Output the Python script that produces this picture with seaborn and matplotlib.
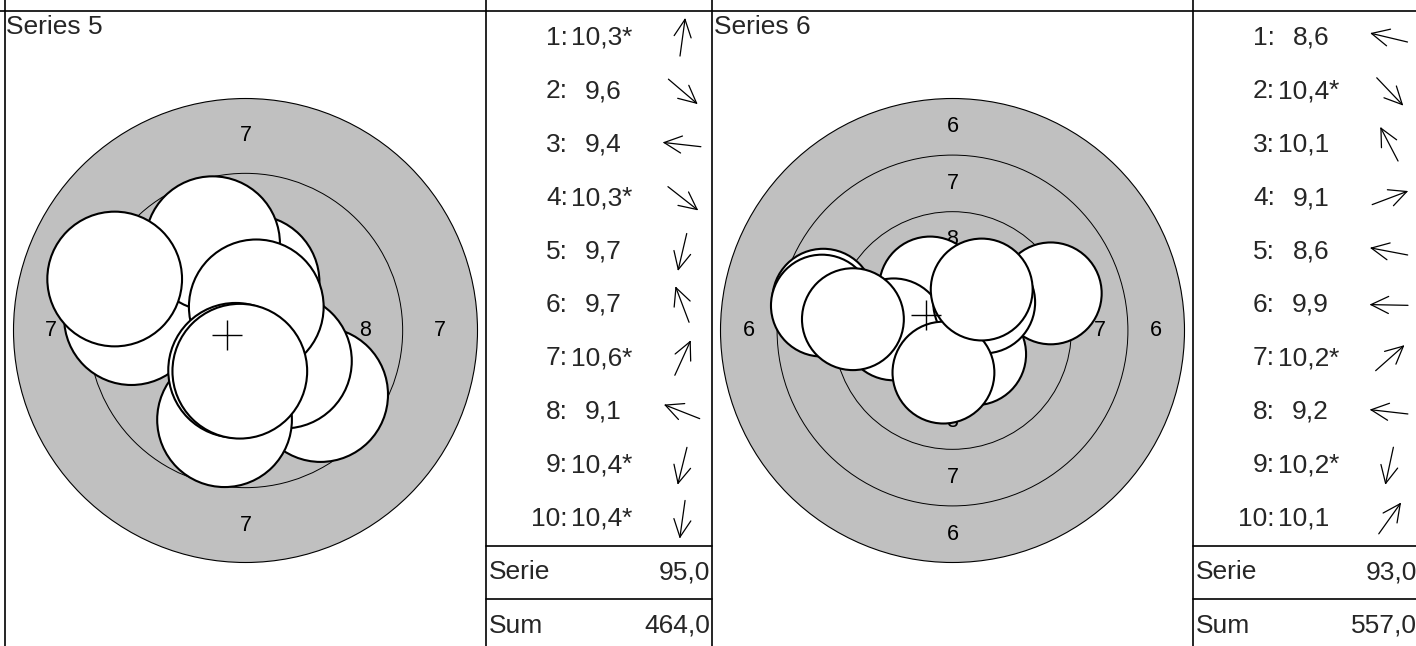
import numpy as np
import matplotlib
matplotlib.use("Agg")
import matplotlib.pyplot as plt
from matplotlib.patches import Circle
from matplotlib.lines import Line2D
import seaborn as sns

# shot data (positions in mm, y up, target centre = 0,0)
series_names = ["Series 5", "Series 6"]
outer_rings = [7, 6]            # outermost ring drawn on each target
running_totals = [464.0, 557.0]

scores_5 = [10.3, 9.6, 9.4, 10.3, 9.7, 9.7, 10.6, 9.1, 10.4, 10.4]
shot_x_5 = [0.22, 2.51, -3.81, 1.30, -0.70, -1.10, 0.36, -4.37, -0.33, -0.19]
shot_y_5 = [1.61, -2.14, 0.43, -1.02, -2.98, 2.90, 0.79, 1.72, -1.33, -1.36]

scores_6 = [8.6, 10.4, 10.1, 9.1, 8.6, 9.9, 10.2, 9.2, 10.2, 10.1]
shot_x_6 = [-5.71, 1.00, -0.99, 4.34, -5.77, -2.60, 1.40, -4.40, -0.40, 1.29]
shot_y_6 = [1.36, -1.05, 1.90, 1.64, 1.10, 0.05, 1.24, 0.50, -1.86, 1.81]

all_scores = [scores_5, scores_6]
all_x = [shot_x_5, shot_x_6]
all_y = [shot_y_5, shot_y_6]

# 10m air rifle target geometry
PELLET_R = 2.25


def ring_radius(n):
    return 0.25 + (10 - n) * 2.5


def fmt(v):
    return f"{v:.1f}".replace(".", ",")


W, H, DPI = 1416, 646, 100
sns.set_theme(style="white")
plt.rcParams["font.family"] = ["Liberation Sans", "DejaVu Sans"]

fig = plt.figure(figsize=(W / DPI, H / DPI), dpi=DPI)
fig.patch.set_facecolor("white")


def fx(px):
    return px / W


def fy(py):
    return 1 - py / H


panel_left = [5, 712]
target_w, list_w = 481, 226
top = 11
row_h = 53.45
bottom = top + 12 * row_h
target_bottom = 650
outer_px = 232          # radius of the outermost drawn ring in pixels
FS = 19

for k in range(2):
    x0 = panel_left[k]
    scores = all_scores[k]
    xs, ys = all_x[k], all_y[k]

    # ---- target ----
    ax = fig.add_axes([fx(x0), fy(target_bottom), target_w / W, (target_bottom - top) / H])
    ax.set_axis_off()
    r_out = ring_radius(outer_rings[k])
    ppm = outer_px / r_out
    hw = target_w / 2 / ppm
    hh = (target_bottom - top) / 2 / ppm

    ax.add_patch(Circle((0, 0), r_out, fc="#c0c0c0", ec="black", lw=0.8, zorder=1))
    for n in range(outer_rings[k] + 1, 11):
        ax.add_patch(Circle((0, 0), ring_radius(n), fill=False, ec="black", lw=0.7, zorder=1.1))
    for n in range(outer_rings[k], 9):
        rr = (ring_radius(n) + ring_radius(n + 1)) / 2
        for dx, dy in [(0, 1), (0, -1), (-1, 0), (1, 0)]:
            ax.text(dx * rr, dy * rr, str(n), ha="center", va="center",
                    fontsize=15.5, color="black", zorder=1.2)

    for i, (sx, sy) in enumerate(zip(xs, ys)):
        ax.add_patch(Circle((sx, sy), PELLET_R, fc="white", ec="black",
                            lw=1.5, zorder=3 + i * 0.01))

    sns.scatterplot(x=[np.mean(xs)], y=[np.mean(ys)], marker="+", s=480,
                    color="black", linewidth=1.0, ax=ax, zorder=5, legend=False)
    ax.set_xlim(-hw, hw)
    ax.set_ylim(-hh, hh)
    ax.set_aspect("equal")

    fig.text(fx(x0 + 1.5), fy(33.5), series_names[k], fontsize=FS,
             ha="left", va="baseline")

    # ---- shot list ----
    lx = x0 + target_w
    lax = fig.add_axes([fx(lx), fy(bottom), list_w / W, (bottom - top) / H])
    lax.set_axis_off()
    lax.set_xlim(0, list_w)
    lax.set_ylim(bottom - top, 0)

    for i, s in enumerate(scores):
        yc = (i + 0.5) * row_h
        lax.text(82, yc, f"{i + 1}:", ha="right", va="center", fontsize=FS)
        lax.text(136, yc, fmt(s), ha="right", va="center", fontsize=FS)
        if s >= 10.2:
            lax.text(136, yc, "*", ha="left", va="center", fontsize=FS)

        # direction arrow (screen coords, y down)
        d = np.array([xs[i], -ys[i]])
        u = d / np.linalg.norm(d)
        c = np.array([196.5, yc])
        tail, tip = c - 18.5 * u, c + 18.5 * u
        lax.plot([tail[0], tip[0]], [tail[1], tip[1]], color="black", lw=0.9)
        for ang in (np.radians(26), -np.radians(26)):
            rot = np.array([[np.cos(ang), -np.sin(ang)], [np.sin(ang), np.cos(ang)]])
            arm = tip + 19.5 * (rot @ -u)
            lax.plot([tip[0], arm[0]], [tip[1], arm[1]], color="black", lw=0.9)

    serie_total = sum(int(s) for s in scores)
    lax.text(3, 10.5 * row_h, "Serie", ha="left", va="center", fontsize=FS)
    lax.text(224, 10.5 * row_h, fmt(serie_total), ha="right", va="center", fontsize=FS)
    lax.text(3, 11.5 * row_h, "Sum", ha="left", va="center", fontsize=FS)
    lax.text(224, 11.5 * row_h, fmt(running_totals[k]), ha="right", va="center", fontsize=FS)

    # table rules
    for yy in (top + 10 * row_h, top + 11 * row_h):
        fig.add_artist(Line2D([fx(lx), fx(lx + list_w)], [fy(yy), fy(yy)],
                              color="black", lw=1.2))
    for xx in (x0, lx):
        fig.add_artist(Line2D([fx(xx), fx(xx)], [0, 1], color="black", lw=1.2))

fig.add_artist(Line2D([0, 1], [fy(top), fy(top)], color="black", lw=1.2))

fig.savefig("out.png", dpi=DPI, facecolor="white")
